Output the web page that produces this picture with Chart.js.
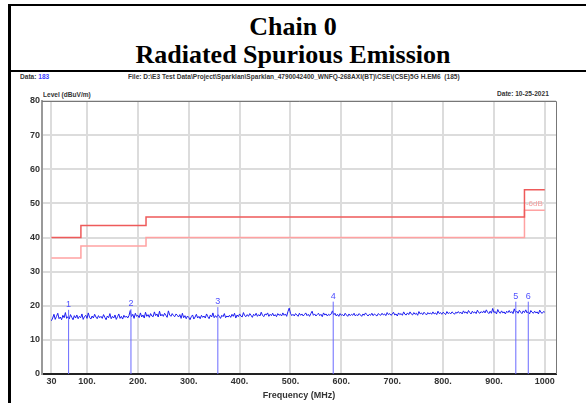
<!DOCTYPE html>
<html>
<head>
<meta charset="utf-8">
<script src="https://cdn.jsdelivr.net/npm/chart.js@4.4.1/dist/chart.umd.min.js"></script>
<style>
  html, body { margin: 0; padding: 0; background: #fff; }
  #wrap { position: relative; width: 586px; height: 403px; overflow: hidden; }
  #box { position: absolute; left: 8px; top: 4px; width: 600px; height: 64px;
         border-top: 2px solid #000; border-bottom: 2px solid #000; }
  #leftline { position: absolute; left: 8px; top: 4px; width: 3px; height: 400px; background: #000; }
  .title { position: absolute; left: 0; width: 586px; text-align: center;
           font: bold 26px "Liberation Serif", "Times New Roman", serif; color: #000; line-height: 30px; }
  .small { position: absolute; font: bold 8px "Liberation Sans", Arial, sans-serif;
           color: #333; white-space: nowrap; transform: scaleX(0.82); transform-origin: left top; }
  canvas { position: absolute; left: 0; top: 0; }
</style>
</head>
<body>
<div id="wrap">
  <div id="box"></div>
  <div id="leftline"></div>
  <div class="title" style="top:12px">Chain 0</div>
  <div class="title" style="top:40px">Radiated Spurious Emission</div>
  <div class="small" style="left:20px; top:72px">Data: <span style="color:#3a3aff">183</span></div>
  <div class="small" style="left:128px; top:72px">File: D:\E3 Test Data\Project\Sparklan\Sparklan_4790042400_WNFQ-268AXI(BT)\CSE\(CSE)5G H.EM6&nbsp; (185)</div>
  <div class="small" style="left:497px; top:89px">Date: 10-25-2021</div>
  <div class="small" style="left:43px; top:90px">Level (dBuV/m)</div>
  <canvas id="c" width="586" height="403"></canvas>
</div>
<script>
// 频谱数据（30 MHz 起，每 2.5 MHz 一点）
const traceStart = 30;
const traceStep = 2.5;
const traceLevel = [
  15.6,16.4,17.5,16.0,16.9,17.8,16.2,16.7,15.9,17.2,16.5,18.0,16.3,16.8,16.1,17.4,16.6,15.9,17.1,16.4,
  17.3,16.2,16.9,16.5,17.6,16.0,16.8,17.2,16.3,17.9,16.6,16.1,17.0,16.4,17.5,16.7,16.2,17.1,16.5,16.9,
  16.3,17.4,16.6,15.9,17.0,16.5,17.7,16.2,16.9,16.4,17.3,16.0,16.8,17.6,16.3,16.9,16.1,17.2,16.6,17.0,
  16.4,17.1,18.6,16.8,17.5,16.3,17.8,16.9,17.2,16.5,17.9,16.7,17.3,16.4,18.1,16.9,17.4,16.6,17.7,17.0,
  16.8,18.2,17.1,17.6,16.7,18.4,17.0,17.5,16.9,17.8,17.2,16.6,18.5,17.3,16.9,17.7,17.1,16.8,17.6,17.2,
  16.7,17.4,16.3,17.8,16.5,17.1,16.2,17.0,16.6,15.9,16.8,17.3,16.1,16.7,17.5,16.4,16.9,16.2,17.2,16.6,
  17.0,16.4,17.6,16.8,16.2,17.3,16.7,17.9,16.5,17.1,16.6,17.4,16.9,16.3,17.2,16.8,17.7,16.5,17.0,16.7,
  17.2,16.6,17.5,16.9,17.8,16.4,17.3,16.8,17.6,17.0,16.7,18.0,17.1,16.8,17.4,16.9,17.7,17.2,16.6,17.5,
  17.1,17.8,16.9,17.4,17.0,18.1,17.2,16.8,17.6,17.3,17.9,16.9,17.5,17.1,17.8,17.0,17.4,16.8,17.7,17.2,
  17.5,17.0,17.9,17.2,17.6,16.9,18.3,19.3,17.8,17.1,17.5,17.0,17.7,17.3,16.9,17.8,17.2,17.6,17.0,17.4,
  17.9,17.1,17.5,16.9,17.7,18.4,17.2,17.6,17.0,17.4,17.8,17.1,17.5,16.8,17.9,17.3,17.6,17.0,17.5,17.2,
  17.6,18.5,17.3,17.8,17.0,17.5,16.9,17.7,17.2,17.4,17.0,17.8,17.3,16.9,17.6,17.1,17.5,17.2,17.8,17.0,
  17.4,17.1,17.7,17.3,16.9,17.6,17.2,17.9,17.4,17.0,17.5,17.2,17.8,17.1,17.6,17.3,17.0,17.7,17.4,17.2,
  17.8,17.3,17.6,17.1,18.0,17.4,17.7,17.2,17.5,18.1,17.3,17.6,17.0,17.9,17.4,17.7,17.2,18.2,17.5,17.3,
  17.9,17.4,18.2,17.6,17.3,18.0,17.5,17.8,17.2,18.3,17.6,17.9,17.4,18.1,17.7,17.3,18.0,17.6,17.9,17.5,
  18.2,17.6,17.9,17.4,18.4,17.7,18.0,17.5,18.1,17.8,17.4,18.3,17.7,18.0,17.6,18.2,17.9,17.5,18.1,17.8,
  18.3,17.8,18.1,17.6,18.5,17.9,18.2,17.7,18.6,18.0,17.6,18.4,17.9,18.2,17.7,18.7,18.0,17.8,18.3,17.9,
  18.5,17.9,18.8,18.1,17.7,18.4,17.8,19.2,18.0,18.3,17.6,18.9,18.1,17.8,18.5,17.9,18.2,17.6,18.4,18.0,
  18.6,17.9,18.3,17.7,19.1,18.0,18.4,17.8,18.7,18.1,17.7,18.5,18.0,18.8,17.9,18.3,17.6,18.6,18.1,17.8,
  18.4,17.9,18.2,17.6,18.7,18.0,17.8,18.3,18.1
];

// 限值线（阶梯）
const limitFreq = [30, 88, 216, 960, 1000];
const limitLevel = [40, 43.5, 46, 54, 54];
const limit6dBLevel = [34, 37.5, 40, 48, 48];

// 标记点
const markerNames = ["1", "2", "3", "4", "5", "6"];
const markerFreq = [63.8, 186.4, 357.2, 584, 943, 967.5];
const markerLevel = [18.8, 19.0, 19.6, 21.2, 21.2, 21.2];

// 坐标轴刻度
const xTickValues = [30, 100, 200, 300, 400, 500, 600, 700, 800, 900, 1000];
const xTickLabels = ["30", "100.", "200.", "300.", "400.", "500.", "600.", "700.", "800.", "900.", "1000"];
const yTickValues = [0, 10, 20, 30, 40, 50, 60, 70, 80];

const tickFont = { family: "'Liberation Sans', Arial, sans-serif", size: 9, weight: "bold" };

const tracePts = traceLevel.map((v, i) => ({ x: traceStart + i * traceStep, y: v }));
const limitPts = limitFreq.map((f, i) => ({ x: f, y: limitLevel[i] }));
const limit6Pts = limitFreq.map((f, i) => ({ x: f, y: limit6dBLevel[i] }));

// 每个标记一条竖线
const markerSets = markerFreq.map((f, i) => ({
  data: [{ x: f, y: 0 }, { x: f, y: markerLevel[i] }],
  borderColor: "#6a6aff",
  borderWidth: 1,
  pointRadius: 0,
}));

const extras = {
  id: "extras",
  afterDatasetsDraw(chart) {
    const { ctx, chartArea: { left, right, top, bottom }, scales: { x, y } } = chart;
    ctx.save();
    // 上/右边框
    ctx.strokeStyle = "#777";
    ctx.lineWidth = 1;
    ctx.beginPath();
    ctx.moveTo(left, top + 0.5);
    ctx.lineTo(right + 0.5, top + 0.5);
    ctx.lineTo(right + 0.5, bottom);
    ctx.stroke();
    // 标记编号
    ctx.fillStyle = "#5050ff";
    ctx.font = "9px 'Liberation Sans', sans-serif";
    ctx.textAlign = "center";
    ctx.textBaseline = "bottom";
    markerFreq.forEach((f, i) => {
      ctx.fillText(markerNames[i], x.getPixelForValue(f), y.getPixelForValue(markerLevel[i]) - 1);
    });
    // -6dB 标签
    ctx.fillStyle = "#f4a0a0";
    ctx.font = "8px 'Liberation Sans', sans-serif";
    ctx.textAlign = "right";
    ctx.textBaseline = "middle";
    ctx.fillText("-6dB", x.getPixelForValue(996), y.getPixelForValue(49.8));
    ctx.restore();
  },
};

new Chart(document.getElementById("c"), {
  type: "line",
  data: {
    datasets: [
      ...markerSets,
      { data: tracePts, borderColor: "#1c1cf0", borderWidth: 1, pointRadius: 0, tension: 0 },
      { data: limitPts, borderColor: "#ee5a5a", borderWidth: 1.5, pointRadius: 0, stepped: "before" },
      { data: limit6Pts, borderColor: "#ffa2a2", borderWidth: 1.5, pointRadius: 0, stepped: "before" },
    ],
  },
  options: {
    responsive: false,
    animation: false,
    layout: { padding: { left: 0, top: 101, right: 30, bottom: 2 } },
    plugins: { legend: { display: false }, tooltip: { enabled: false } },
    scales: {
      x: {
        type: "linear",
        min: 11.5, max: 1022,
        afterBuildTicks: (s) => { s.ticks = xTickValues.map((v) => ({ value: v })); },
        afterFit: (s) => { s.height = 27; },
        ticks: {
          autoSkip: false, maxRotation: 0, padding: 2, color: "#333", font: tickFont,
          callback: (v) => xTickLabels[xTickValues.indexOf(v)],
        },
        grid: { color: "#dcdcdc", lineWidth: 2, drawTicks: false },
        border: { color: "#222", width: 2 },
        title: { display: true, text: "Frequency (MHz)", color: "#333", font: tickFont, padding: { top: 0, bottom: 0 } },
      },
      y: {
        min: 0, max: 80,
        afterBuildTicks: (s) => { s.ticks = yTickValues.map((v) => ({ value: v })); },
        afterFit: (s) => { s.width = 42; },
        ticks: { padding: 2, color: "#333", font: tickFont },
        grid: { color: "#dcdcdc", lineWidth: 2, drawTicks: false },
        border: { color: "#999", width: 2 },
      },
    },
  },
  plugins: [extras],
});
</script>
</body>
</html>
